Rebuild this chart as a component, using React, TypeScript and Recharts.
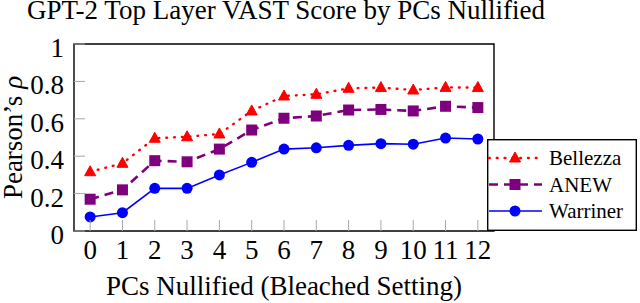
import React from "react";
import { LineChart, Line, XAxis, YAxis, ReferenceArea, Legend } from "recharts";

const FONT = "'Liberation Serif', 'Times New Roman', serif";

const pcs = [0, 1, 2, 3, 4, 5, 6, 7, 8, 9, 10, 11, 12];
const bellezza = [0.317, 0.362, 0.496, 0.504, 0.519, 0.642, 0.722, 0.731, 0.763, 0.767, 0.754, 0.768, 0.767];
const anew = [0.17, 0.22, 0.376, 0.37, 0.438, 0.54, 0.603, 0.615, 0.647, 0.65, 0.642, 0.667, 0.66];
const warriner = [0.075, 0.098, 0.228, 0.228, 0.3, 0.367, 0.438, 0.445, 0.458, 0.467, 0.464, 0.497, 0.492];
const yTicks = [0, 0.2, 0.4, 0.6, 0.8, 1];
const yTickLabels = ["0", "0.2", "0.4", "0.6", "0.8", "1"];

const data = pcs.map((x, i) => ({
  x,
  bellezza: bellezza[i],
  anew: anew[i],
  warriner: warriner[i],
}));

const RED = "#ff0000";
const PURPLE = "#7f007f";
const BLUE = "#0000ff";

const Triangle = ({ cx, cy }: { cx: number; cy: number }) => (
  <polygon points={`${cx},${cy - 6} ${cx - 5.5},${cy + 4} ${cx + 5.5},${cy + 4}`} fill={RED} stroke={RED} strokeWidth={1} />
);
const Square = ({ cx, cy }: { cx: number; cy: number }) => (
  <rect x={cx - 5.5} y={cy - 5.5} width={11} height={11} fill={PURPLE} />
);
const Circle = ({ cx, cy }: { cx: number; cy: number }) => (
  <circle cx={cx} cy={cy} r={5.5} fill={BLUE} />
);

const series = [
  { key: "bellezza", name: "Bellezza", color: RED, dash: "0.8 7", cap: "round", width: 2.4, Mark: Triangle },
  { key: "anew", name: "ANEW", color: PURPLE, dash: "9 6", cap: "butt", width: 2.6, Mark: Square },
  { key: "warriner", name: "Warriner", color: BLUE, dash: undefined, cap: "butt", width: 1.6, Mark: Circle },
];

const XTick = (props: any) => {
  const { x, y, payload } = props;
  return (
    <g>
      <line x1={x} x2={x} y1={y} y2={y - 11} stroke="#a8a8a8" strokeWidth={1} />
      <text x={x} y={y + 28} textAnchor="middle" fontSize={27} fontFamily={FONT} fill="#000">
        {payload.value}
      </text>
    </g>
  );
};

const YTick = (props: any) => {
  const { x, y, payload } = props;
  const idx = yTicks.indexOf(payload.value);
  return (
    <g>
      <line x1={x} x2={x + 11} y1={y} y2={y} stroke="#a8a8a8" strokeWidth={1} />
      <text x={x - 10} y={y + 13} textAnchor="end" fontSize={27} fontFamily={FONT} fill="#000">
        {idx >= 0 ? yTickLabels[idx] : payload.value}
      </text>
    </g>
  );
};

const YLabel = (props: any) => {
  const vb = props.viewBox || { x: 0, y: 44, height: 187 };
  const cx = 22;
  const cy = vb.y + vb.height / 2;
  return (
    <text
      x={cx}
      y={cy}
      transform={`rotate(-90, ${cx}, ${cy})`}
      textAnchor="middle"
      fontSize={27}
      fontFamily={FONT}
      fill="#000"
    >
      Pearson’s <tspan fontStyle="italic">ρ</tspan>
    </text>
  );
};

// legend drawn as svg so the serif font matches the rest of the figure
const LegendBox = () => (
  <svg width={150} height={92} style={{ display: "block" }}>
    <rect x={0.7} y={0.7} width={148.6} height={90.6} fill="#fff" stroke="#000" strokeWidth={1.4} />
    {series.map((s, i) => {
      const cy = 19 + i * 26.5;
      return (
        <g key={s.key}>
          <line
            x1={2}
            x2={55}
            y1={cy}
            y2={cy}
            stroke={s.color}
            strokeWidth={s.width}
            strokeDasharray={s.dash}
            strokeLinecap={s.cap as any}
          />
          <s.Mark cx={28} cy={cy} />
          <text x={62} y={cy + 7} fontSize={21} fontFamily={FONT} fill="#000">
            {s.name}
          </text>
        </g>
      );
    })}
  </svg>
);

export default function App() {
  return (
    <div style={{ position: "absolute", left: 0, top: 0, width: 640, height: 303, background: "#fff" }}>
      <svg width={640} height={40} style={{ position: "absolute", left: 0, top: 0 }}>
        <text x={286} y={19} textAnchor="middle" fontSize={27} fontFamily={FONT} fill="#000">
          GPT-2 Top Layer VAST Score by PCs Nullified
        </text>
      </svg>
      <LineChart
        width={640}
        height={303}
        data={data}
        margin={{ top: 44, right: 146, left: 0, bottom: 0 }}
        style={{ position: "absolute", left: 0, top: 0 }}
      >
        <XAxis
          dataKey="x"
          type="number"
          domain={[-0.5, 12.5]}
          ticks={pcs}
          interval={0}
          height={72}
          axisLine={false}
          tickLine={false}
          tickSize={0}
          tickMargin={0}
          tick={<XTick />}
          label={{
            value: "PCs Nullified (Bleached Setting)",
            position: "insideBottom",
            offset: 8,
            fontSize: 27,
            fontFamily: FONT,
            fill: "#000",
          }}
        />
        <YAxis
          type="number"
          domain={[0, 1]}
          ticks={yTicks}
          interval={0}
          width={74}
          axisLine={false}
          tickLine={false}
          tickSize={0}
          tickMargin={0}
          tick={<YTick />}
          label={{ content: YLabel }}
        />
        <ReferenceArea x1={-0.5} x2={12.5} y1={0} y2={1} fill="none" stroke="#000" strokeWidth={1.4} />
        {series.map((s) => (
          <Line
            key={s.key}
            dataKey={s.key}
            name={s.name}
            stroke={s.color}
            strokeWidth={s.width}
            strokeDasharray={s.dash}
            strokeLinecap={s.cap as any}
            type="linear"
            isAnimationActive={false}
            dot={(p: any) => <s.Mark key={`${s.key}-${p.index}`} cx={p.cx} cy={p.cy} />}
            activeDot={false}
          />
        ))}
        <Legend
          layout="vertical"
          align="center"
          verticalAlign="middle"
          content={<LegendBox />}
          wrapperStyle={{ left: 487, top: 139, width: 150, height: 92 }}
        />
      </LineChart>
    </div>
  );
}
